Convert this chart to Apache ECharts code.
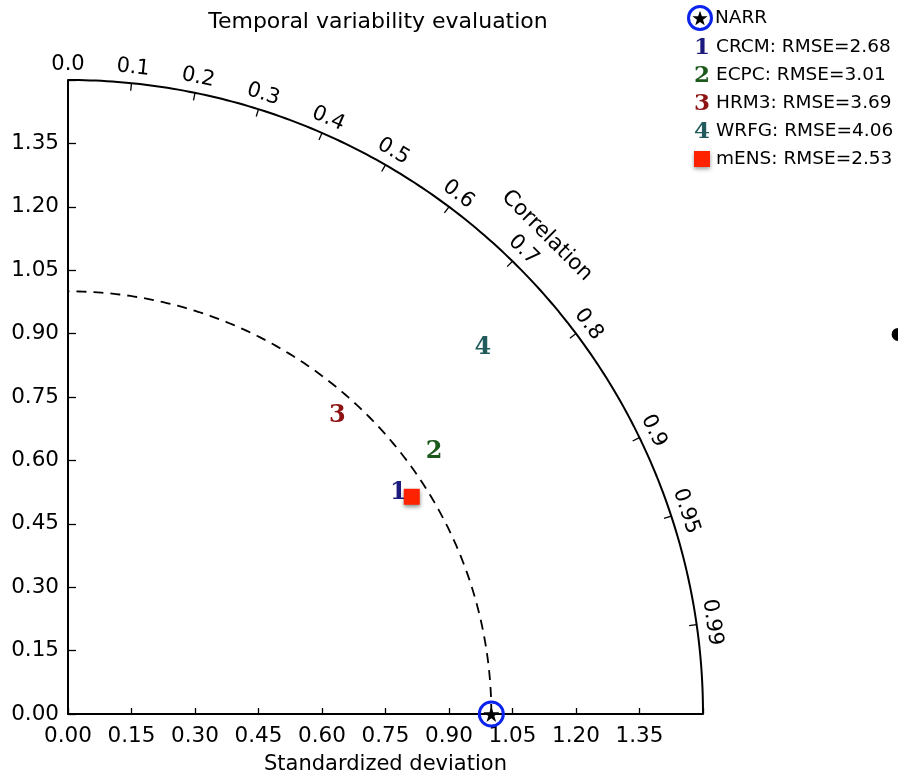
<!DOCTYPE html>
<html>
<head>
<meta charset="utf-8">
<script src="https://cdn.jsdelivr.net/npm/echarts@6/dist/echarts.min.js"></script>
<style>html,body{margin:0;padding:0;background:#fff;}#c{width:898px;height:776px;}</style>
</head>
<body>
<div id="c"></div>
<script>
// ---- data ----
const modelNames = ['CRCM', 'ECPC', 'HRM3', 'WRFG'];
const modelMarks = ['1', '2', '3', '4'];
const modelColors = ['#1b1b7e', '#1b5a1b', '#8e1414', '#215b5b'];
const modelStd = [0.940, 1.064, 0.950, 1.308];
const modelCorr = [0.830, 0.813, 0.670, 0.749];
const modelRmse = ['2.68', '3.01', '3.69', '4.06'];
const ensName = 'mENS';
const ensStd = [0.961];
const ensCorr = [0.845];
const ensRmse = '2.53';
const refName = 'NARR';
const refStd = [1.0];
const refCorr = [1.0];
const strayPoint = [[1.961, 0.898]];
const corrTicks = [0.0, 0.1, 0.2, 0.3, 0.4, 0.5, 0.6, 0.7, 0.8, 0.9, 0.95, 0.99];
const corrTickLabels = ['0.0','0.1','0.2','0.3','0.4','0.5','0.6','0.7','0.8','0.9','0.95','0.99'];
const stdMax = 1.5;
const stdInterval = 0.15;
const refRadius = 1.0;

const FONT = 'DejaVu Sans';
const STAR = 'path://M50,0 L61,35 L98,35 L68,57 L79,91 L50,70 L21,91 L32,57 L2,35 L39,35 Z';
function polarToXY(s, c) { const t = Math.acos(c); return [s * Math.cos(t), s * Math.sin(t)]; }
function arc(r) { const pts = []; for (let i = 0; i <= 180; i++) { const a = Math.PI / 2 * i / 180; pts.push([r * Math.cos(a), r * Math.sin(a)]); } return pts; }
function starPoints(cx, cy, R) {
  const pts = [];
  for (let k = 0; k < 10; k++) {
    const a = -Math.PI / 2 + k * Math.PI / 5;
    const rr = k % 2 === 0 ? R : R * 0.4;
    pts.push([cx + rr * Math.cos(a), cy + rr * Math.sin(a) + R * 0.1]);
  }
  return pts;
}

const modelSeries = modelNames.map((n, i) => ({
  type: 'custom', name: n, clip: false, z: 5,
  data: [polarToXY(modelStd[i], modelCorr[i])],
  renderItem: function (params, api) {
    const p = api.coord([api.value(0), api.value(1)]);
    return { type: 'text', x: p[0], y: p[1], style: { text: modelMarks[i], fill: modelColors[i], font: 'bold 24px "DejaVu Serif"', align: 'center', verticalAlign: 'middle' } };
  }
}));

const chart = echarts.init(document.getElementById('c'), null, { renderer: 'canvas' });
const legendY = [18, 47, 75, 103, 131, 159];
const legendGraphics = [];
legendGraphics.push({ type: 'circle', shape: { cx: 700, cy: legendY[0], r: 11.5 }, style: { fill: 'none', stroke: '#0a24ee', lineWidth: 3 } });
legendGraphics.push({ type: 'polygon', shape: { points: starPoints(700, legendY[0], 8) }, style: { fill: '#000' } });
legendGraphics.push({ type: 'text', x: 715, y: legendY[0], style: { text: refName, font: '18.5px "' + FONT + '"', fill: '#000', verticalAlign: 'middle' } });
modelNames.forEach((n, i) => {
  legendGraphics.push({ type: 'text', x: 702, y: legendY[i + 1] + 1, style: { text: modelMarks[i], fill: modelColors[i], font: 'bold 23px "DejaVu Serif"', align: 'center', verticalAlign: 'middle' } });
  legendGraphics.push({ type: 'text', x: 716, y: legendY[i + 1], style: { text: n + ': RMSE=' + modelRmse[i], font: '18.5px "' + FONT + '"', fill: '#000', verticalAlign: 'middle' } });
});
legendGraphics.push({ type: 'rect', shape: { x: 694, y: legendY[5] - 8, width: 16, height: 16 }, style: { fill: '#ff2200', shadowBlur: 4, shadowColor: 'rgba(0,0,0,0.4)', shadowOffsetY: 2 } });
legendGraphics.push({ type: 'text', x: 716, y: legendY[5], style: { text: ensName + ': RMSE=' + ensRmse, font: '18.5px "' + FONT + '"', fill: '#000', verticalAlign: 'middle' } });

const option = {
  animation: false,
  backgroundColor: '#fff',
  title: { text: 'Temporal variability evaluation', left: 373, top: 6, textAlign: 'center', textStyle: { fontFamily: FONT, fontSize: 22, fontWeight: 'normal', color: '#000' } },
  grid: { left: 68, top: 80, width: 635, height: 634, containLabel: false, outerBoundsMode: 'none' },
  xAxis: {
    type: 'value', min: 0, max: stdMax, interval: stdInterval,
    name: 'Standardized deviation', nameLocation: 'middle', nameGap: 40,
    nameTextStyle: { fontFamily: FONT, fontSize: 21, color: '#000' },
    axisLine: { show: true, lineStyle: { color: '#000', width: 2 } },
    axisTick: { show: true, inside: true, length: 6, lineStyle: { color: '#000', width: 1.3 } },
    axisLabel: { fontFamily: FONT, fontSize: 21.5, color: '#000', margin: 11, formatter: v => v >= stdMax - 1e-9 ? '' : v.toFixed(2) },
    splitLine: { show: false }
  },
  yAxis: {
    type: 'value', min: 0, max: stdMax, interval: stdInterval,
    axisLine: { show: true, lineStyle: { color: '#000', width: 2 } },
    axisTick: { show: true, inside: true, length: 8, lineStyle: { color: '#000', width: 1.3 } },
    axisLabel: { fontFamily: FONT, fontSize: 21.5, color: '#000', margin: 9, formatter: v => v >= stdMax - 1e-9 ? '' : v.toFixed(2) },
    splitLine: { show: false }
  },
  graphic: legendGraphics,
  series: [
    { type: 'line', data: arc(stdMax), showSymbol: false, symbol: 'none', lineStyle: { color: '#000', width: 2 }, silent: true, clip: false },
    { type: 'line', data: arc(refRadius), showSymbol: false, symbol: 'none', lineStyle: { color: '#000', width: 1.8, type: [10, 7] }, silent: true },
    {
      type: 'custom', clip: false, silent: true, data: corrTicks.map((c, i) => [c, i]),
      renderItem: function (params, api) {
        const c = api.value(0), idx = api.value(1);
        const t = Math.acos(c);
        const p1 = api.coord([stdMax * Math.cos(t), stdMax * Math.sin(t)]);
        const p2 = api.coord([(stdMax - 0.018) * Math.cos(t), (stdMax - 0.018) * Math.sin(t)]);
        const lp = api.coord([1.537 * Math.cos(t), 1.537 * Math.sin(t)]);
        const children = [];
        if (c > 0) children.push({ type: 'line', shape: { x1: p1[0], y1: p1[1], x2: p2[0], y2: p2[1] }, style: { stroke: '#000', lineWidth: 1.3 } });
        children.push({ type: 'text', x: lp[0], y: lp[1], rotation: t - Math.PI / 2, style: { text: corrTickLabels[idx], font: '21px "' + FONT + '"', fill: '#000', align: 'center', verticalAlign: 'middle' } });
        return { type: 'group', children: children };
      }
    },
    {
      type: 'custom', clip: false, silent: true, data: [[Math.PI / 4]],
      renderItem: function (params, api) {
        const t = api.value(0);
        const p = api.coord([1.6 * Math.cos(t), 1.6 * Math.sin(t)]);
        return { type: 'text', x: p[0], y: p[1], rotation: t - Math.PI / 2, style: { text: 'Correlation', font: '21.5px "' + FONT + '"', fill: '#000', align: 'center', verticalAlign: 'middle' } };
      }
    },
    ...modelSeries,
    { type: 'scatter', name: ensName, z: 6, data: ensStd.map((s, i) => polarToXY(s, ensCorr[i])), symbol: 'rect', symbolSize: 16, itemStyle: { color: '#ff2200', opacity: 1, shadowBlur: 4, shadowColor: 'rgba(0,0,0,0.45)', shadowOffsetY: 2 } },
    { type: 'scatter', name: refName, z: 7, clip: false, data: refStd.map((s, i) => polarToXY(s, refCorr[i])), symbol: STAR, symbolSize: 16, itemStyle: { color: '#000', opacity: 1 } },
    { type: 'scatter', z: 8, clip: false, data: refStd.map((s, i) => polarToXY(s, refCorr[i])), symbol: 'circle', symbolSize: 24, itemStyle: { color: 'rgba(0,0,0,0)', borderColor: '#0a24ee', borderWidth: 3, opacity: 1 } },
    { type: 'scatter', z: 4, clip: false, data: strayPoint, symbol: 'circle', symbolSize: 13, itemStyle: { color: '#000', opacity: 1 } }
  ]
};
chart.setOption(option);
</script>
</body>
</html>
